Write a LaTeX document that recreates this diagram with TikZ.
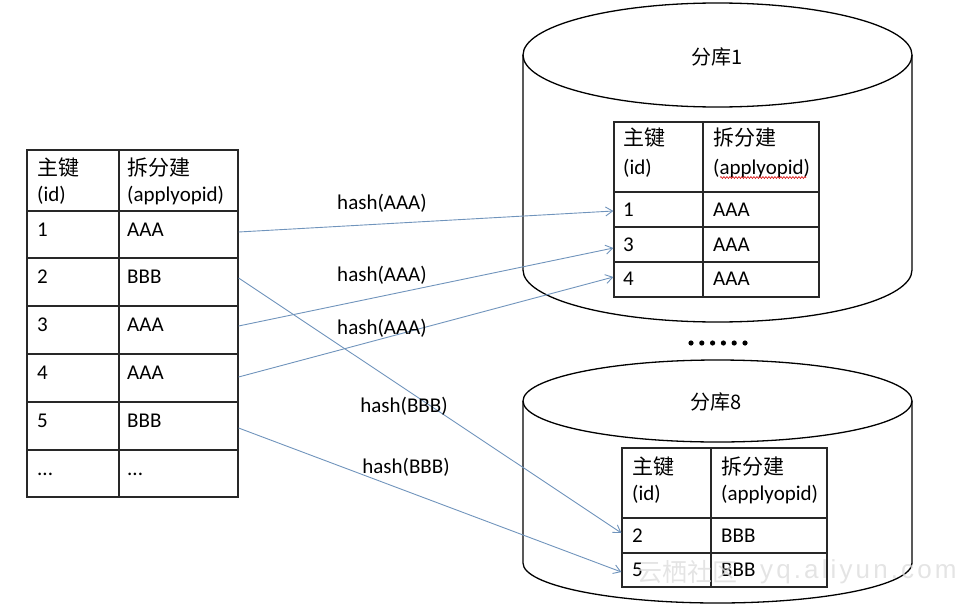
\documentclass[tikz,border=0pt]{standalone}
\usepackage{fontspec}
\setmainfont{Carlito}
\newfontfamily\cjk{Noto Sans CJK SC}
\newfontfamily\wmfont{Liberation Sans}
\usetikzlibrary{arrows.meta,fit,decorations.pathmorphing}
\definecolor{arrowblue}{RGB}{112,148,188}
\definecolor{tableline}{RGB}{40,40,40}
\begin{document}
\begin{tikzpicture}[x=1pt,y=-1pt,
  cellbox/.style={draw=tableline,line width=1.2pt,inner sep=0pt,rectangle},
  txt/.style={anchor=base west,inner sep=0pt,font=\fontsize{21}{25}\selectfont},
  cjktxt/.style={anchor=base west,inner sep=0pt,font=\fontsize{21}{25}\selectfont\cjk},
  hashlbl/.style={inner sep=0pt,font=\fontsize{21}{25}\selectfont},
  dbtitle/.style={inner sep=0pt,font=\fontsize{20}{24}\selectfont\cjk},
  cyl/.style={draw=black,line width=1.3pt},
  arr/.style={draw=arrowblue,line width=0.9pt,-{Straight Barb[length=7pt,width=9pt]}},
  wmark/.style={anchor=base west,inner sep=0pt,text=gray!28,opacity=0.75},
]
\useasboundingbox (0,0) rectangle (963,605);

% cylinders
\draw[cyl] (717.5,55) ellipse [x radius=194.5pt, y radius=52pt];
\draw[cyl] (523,55) -- (523,270) arc[start angle=180,end angle=360,x radius=194.5pt,y radius=52pt] -- (912,55);
\node[dbtitle] (db1) at (717.5,57) {分库1};

\draw[cyl] (717.5,401) ellipse [x radius=194.5pt, y radius=41pt];
\draw[cyl] (523,401) -- (523,563) arc[start angle=180,end angle=360,x radius=194.5pt,y radius=40pt] -- (912,401);
\node[dbtitle] (db8) at (716,402) {分库8};

% dots
\foreach \i in {0,...,5} \fill (691+\i*10.8,343) circle[radius=2.6pt];

% left table
\foreach \n/\t/\b in {h/150/211, 1/211/258, 2/258/306, 3/306/354, 4/354/402, 5/402/450, 6/450/497}{
  \node[cellbox, fit={(27,\t)(119,\b)}] (L\n a) {};
  \node[cellbox, fit={(119,\t)(238,\b)}] (L\n b) {};
}
\node[cjktxt] (Lt1) at (37,175) {主键};
\node[txt] (Lt2) at (37,201) {(id)};
\node[cjktxt] (Lt3) at (127,175) {拆分建};
\node[txt] (Lt4) at (127,201) {(applyopid)};
\foreach \k/\y/\u/\v in {1/236.5/1/AAA, 2/283.5/2/BBB, 3/331.5/3/AAA, 4/379.5/4/AAA, 5/427.5/5/BBB}{
  \node[txt] (Lr\k a) at (37,\y) {\u};
  \node[txt] (Lr\k b) at (127,\y) {\v};
}
\node[txt] (Lr6a) at (37,475.5) {...};
\node[txt] (Lr6b) at (127,475.5) {...};

% top table
\foreach \n/\t/\b in {h/122/192, 1/192/227, 3/227/262, 4/262/297}{
  \node[cellbox, fit={(614,\t)(703,\b)}] (T\n a) {};
  \node[cellbox, fit={(703,\t)(819,\b)}] (T\n b) {};
}
\node[cjktxt] (Tt1) at (623,145.5) {主键};
\node[txt] (Tt2) at (623,174) {(id)};
\node[cjktxt] (Tt3) at (713,145.5) {拆分建};
\node[txt] (Tt4) at (713,174) {(applyopid)};
\draw[red!85!black, line width=0.6pt, decorate, decoration={snake,amplitude=0.9pt,segment length=3pt}] (720,177.5) -- (806,177.5);
\foreach \k/\y/\u/\v in {1/216/1/AAA, 3/251/3/AAA, 4/285/4/AAA}{
  \node[txt] (Tr\k a) at (623,\y) {\u};
  \node[txt] (Tr\k b) at (713,\y) {\v};
}

% bottom table
\foreach \n/\t/\b in {h/448/518, 2/518/553, 5/553/587}{
  \node[cellbox, fit={(622,\t)(711,\b)}] (B\n a) {};
  \node[cellbox, fit={(711,\t)(827,\b)}] (B\n b) {};
}
\node[cjktxt] (Bt1) at (632,474) {主键};
\node[txt] (Bt2) at (632,500.5) {(id)};
\node[cjktxt] (Bt3) at (721,474) {拆分建};
\node[txt] (Bt4) at (721,500.5) {(applyopid)};
\foreach \k/\y/\u/\v in {2/542.5/2/BBB, 5/576.5/5/BBB}{
  \node[txt] (Br\k a) at (632,\y) {\u};
  \node[txt] (Br\k b) at (721,\y) {\v};
}

% arrows
\draw[arr] ([yshift=2.5pt]L1b.east) -- ([yshift=-1.5pt]T1a.west);
\draw[arr] ([yshift=4pt]L3b.east) -- ([yshift=-3.5pt]T3a.west);
\draw[arr] ([yshift=1pt]L4b.east) -- ([yshift=2.5pt]T4a.west);
\draw[arr] ([yshift=4pt]L2b.east) -- ([yshift=2.5pt]B2a.west);
\draw[arr] ([yshift=-2pt]L5b.east) -- ([yshift=-2pt]B5a.west);

% labels
\node[hashlbl] (H1) at (382,203) {hash(AAA)};
\node[hashlbl] (H2) at (382,275) {hash(AAA)};
\node[hashlbl] (H3) at (382,328) {hash(AAA)};
\node[hashlbl] (H4) at (404,406) {hash(BBB)};
\node[hashlbl] (H5) at (406,467) {hash(BBB)};

% watermark
\node[wmark, font=\fontsize{25}{30}\selectfont\cjk] (wm1) at (637,581) {云栖社区};
\node[wmark, font=\fontsize{26}{30}\selectfont\wmfont\addfontfeature{LetterSpace=12}] (wm2) at (760,578) {yq.aliyun.com};
\end{tikzpicture}
\end{document}
